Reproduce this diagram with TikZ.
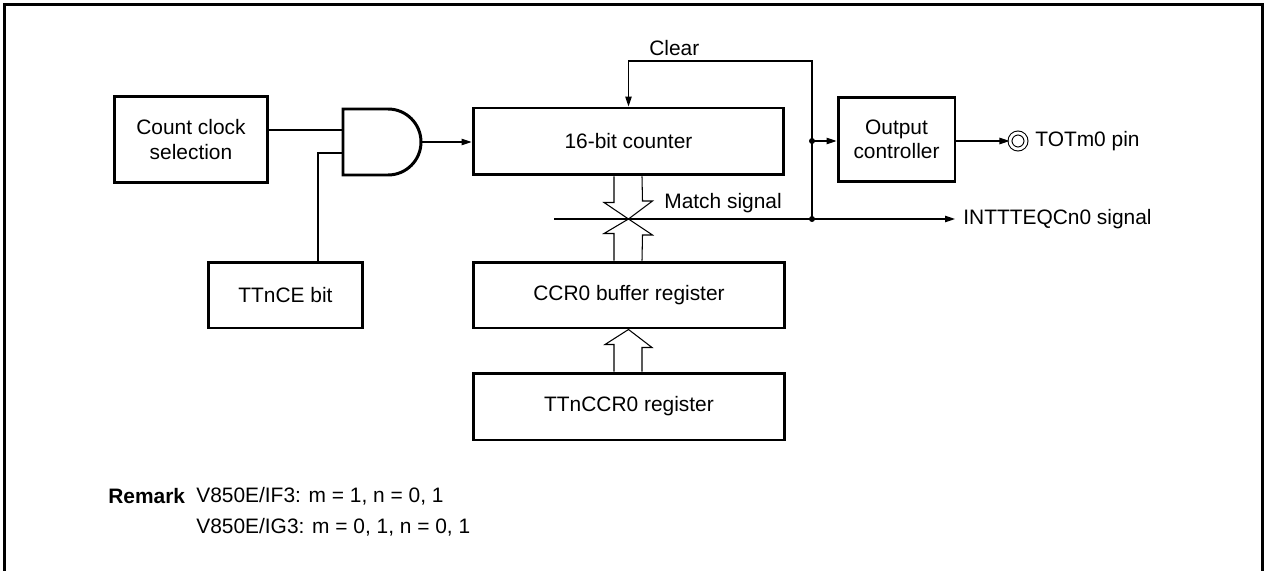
\documentclass[tikz,border=0pt]{standalone}
\usepackage{fontspec}
\setmainfont{Liberation Sans}
\usetikzlibrary{arrows.meta,calc,positioning}

\begin{document}
\begin{tikzpicture}[x=0.02cm,y=-0.02cm,
  every node/.style={font=\fontsize{11.9}{14}\selectfont},
  blk/.style={draw,line width=1.7pt,align=center,inner sep=0pt},
  txt/.style={inner sep=0pt,anchor=west},
  wire/.style={line width=0.6pt},
  sig/.style={wire,-{Triangle[length=2mm,width=1.3mm]}},
  hollow/.style={line width=0.6pt,line join=miter}]
  \useasboundingbox (0,0) rectangle (1265,571);
  % frame
  \draw[line width=1.7pt] (4.5,575) -- (4.5,4.5) -- (1262.5,4.5) -- (1262.5,575);

  % blocks
  \node[blk,minimum width=3.08cm,minimum height=1.74cm] (ccs) at (191,139.5) {Count clock\\selection};
  \node[blk,minimum width=6.22cm,minimum height=1.34cm] (counter) at (628.5,141.5) {16-bit counter};
  \node[blk,minimum width=2.34cm,minimum height=1.70cm] (outc) at (896.5,139.5) {Output\\controller};
  \node[blk,minimum width=3.10cm,minimum height=1.32cm] (tce) at (285.5,295) {TTnCE bit};
  \node[blk,minimum width=6.24cm,minimum height=1.32cm] (buf) at (629,295) {CCR0 buffer register};
  \node[blk,minimum width=6.24cm,minimum height=1.34cm] (ccr) at (629,406.5) {TTnCCR0 register};
  \node[circle,draw,double,double distance=1.6pt,line width=0.6pt,minimum size=0.32cm,inner sep=0pt] (pin) at (1018,141) {};

  % AND gate
  \coordinate (gin1) at (343,130);
  \coordinate (gin2) at (343,153);
  \coordinate (gout) at (421,142);
  \draw[line width=1.7pt] (343,109) -- (388,109) arc[start angle=-90,end angle=90,radius=33]
    -- (343,175) -- cycle;

  % labels
  \node[txt] (clrl) at (649,48) {Clear};
  \node[txt] (matchl) at (664,203) {Match signal};
  \node[txt] (intl) at (963,219) {INTTTEQCn0 signal};
  \node[txt] (pinl) at (1035,141) {TOTm0 pin};

  % connections
  \coordinate (gk) at (318,153);
  \coordinate (jo) at (812,141);
  \coordinate (jm) at (812,219);
  \coordinate (clr) at (812,61);
  \coordinate (mstart) at (554,219);
  \draw[wire] (ccs.east |- gin1) -- (gin1);
  \draw[wire] (gin2) -- (gk) -- (gk |- tce.north);
  \draw[sig] (gout) -- (gout -| counter.west);
  \draw[sig] (jm) -- (clr) -| (counter.north);
  \draw[sig] (jo) -- (jo -| outc.west);
  \draw[sig] (mstart) -- ([xshift=-1.6mm]intl.west);
  \draw[sig] (outc.east |- pin) -- (pin.west);
  \fill (jo) circle[radius=3];
  \fill (jm) circle[radius=3];

  % hollow arrows
  \draw[hollow] ($(counter.south)+(-14.5,0)$) -- ++(0,26) -- ++(-10,0) -- (628.5,219)
    -- ++(24,-18) -- ++(-10,0) -- ($(counter.south)+(13.5,0)$);
  \draw[hollow] ($(buf.north)+(-15,0)$) -- ++(0,-27) -- ++(-10,0) -- (628.5,219)
    -- ++(24,16) -- ++(-10,0) -- ($(buf.north)+(13,0)$);
  \draw[hollow] ($(ccr.north)+(-15,0)$) -- ++(0,-27) -- ++(-9,0) -- ($(buf.south)+(-0.5,0)$)
    -- ++(23.5,18) -- ++(-10,0) -- ($(ccr.north)+(13,0)$);

  % remark
  \node[txt,font=\fontsize{11.9}{14}\selectfont\bfseries] (rem) at (108,496) {Remark};
  \node[txt] (rem1) at (196,496) {V850E/IF3: m = 1, n = 0, 1};
  \node[txt] (rem2) at (196,527) {V850E/IG3: m = 0, 1, n = 0, 1};
\end{tikzpicture}
\end{document}
